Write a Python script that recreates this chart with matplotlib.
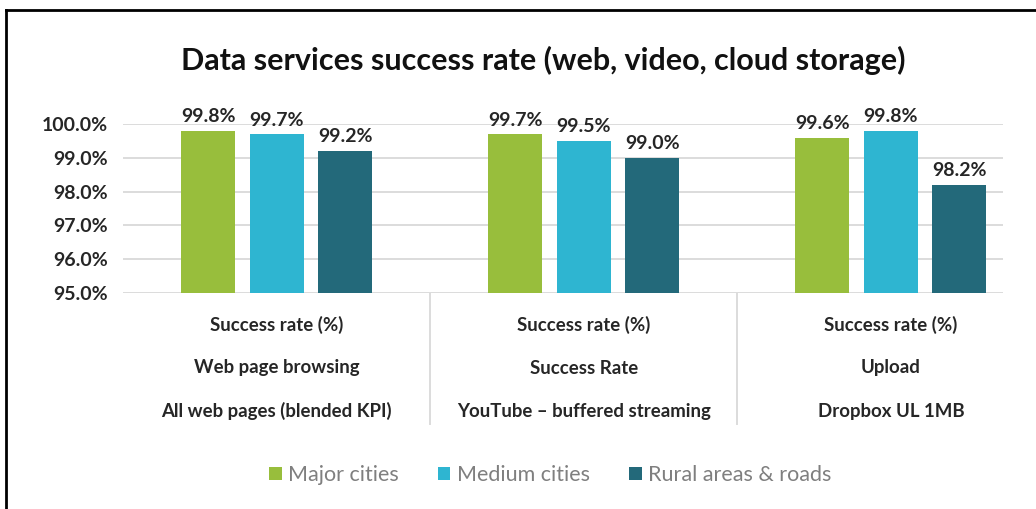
import matplotlib
matplotlib.use("Agg")
import matplotlib.pyplot as plt
from matplotlib.lines import Line2D
from matplotlib.patches import Patch
import numpy as np

plt.rcParams['font.family'] = ['Lato', 'DejaVu Sans']

# datos del grafico
categorias = [
    ("Success rate (%)", "Web page browsing", "All web pages (blended KPI)"),
    ("Success rate (%)", "Success Rate", "YouTube \u2013 buffered streaming"),
    ("Success rate (%)", "Upload", "Dropbox UL 1MB"),
]
series = ["Major cities", "Medium cities", "Rural areas & roads"]
major = [99.8, 99.7, 99.6]
medium = [99.7, 99.5, 99.8]
rural = [99.2, 99.0, 98.2]
yticks = [95, 96, 97, 98, 99, 100]

colores = ["#98BE3C", "#2EB5D1", "#23697A"]
texto = "#262626"

W, H = 1036, 509
fig = plt.figure(figsize=(W / 100, H / 100), dpi=100)
ax = fig.add_axes([123 / W, 1 - 293 / H, (1003 - 123) / W, (293 - 124) / H])

x = np.arange(len(categorias))
ancho = 0.176
paso = 0.223
for i, (valores, color) in enumerate(zip([major, medium, rural], colores)):
    barras = ax.bar(x + (i - 1) * paso, valores, width=ancho, color=color,
                    label=series[i], zorder=3)
    for b, v in zip(barras, valores):
        ax.annotate(f"{v:.1f}%", (b.get_x() + b.get_width() / 2, v),
                    xytext=(0, 4), textcoords="offset points",
                    ha="center", va="bottom", fontsize=14,
                    fontweight="bold", color=texto, annotation_clip=False)

ax.set_ylim(95, 100)
ax.set_xlim(-0.5, 2.365)
ax.set_yticks(yticks)
ax.set_yticklabels([f"{t:.1f}%" for t in yticks], fontsize=14,
                   fontweight="bold", color=texto)
ax.tick_params(axis="y", length=0, pad=11)
ax.set_xticks([])
ax.grid(axis="y", color="#DCDCDC", linewidth=1.4, zorder=0)
for s in ax.spines.values():
    s.set_visible(False)

# etiquetas de categoria en tres niveles
alto = 293 - 124
trans = ax.get_xaxis_transform()
for j, lineas in enumerate(categorias):
    for k, linea in enumerate(lineas):
        ypix = [325, 368, 411][k]
        ax.text(j, (293 - ypix) / alto, linea, transform=trans, ha="center",
                va="center", fontsize=13.4, fontweight="bold", color=texto)

# separadores entre grupos
for sx in [0.5, 1.5]:
    ax.plot([sx, sx], [0, (293 - 424) / alto], transform=trans,
            color="#DCDCDC", linewidth=1.4, clip_on=False)

fig.text(543 / W, 1 - 60 / H,
         "Data services success rate (web, video, cloud storage)",
         ha="center", va="center", fontsize=22, fontweight="bold",
         color="#111111")

handles = [Patch(facecolor=c, label=s) for c, s in zip(colores, series)]
fig.legend(handles=handles, loc="center", bbox_to_anchor=(550 / W, 1 - 475 / H),
           ncol=3, frameon=False, fontsize=15.5, handlelength=0.6,
           handleheight=0.6, handletextpad=0.3, columnspacing=1.8,
           labelcolor="#7F7F7F")

# marco superior e izquierdo
fig.add_artist(Line2D([6 / W, 6 / W], [0, 1 - 10 / H], color="black",
                      linewidth=2, transform=fig.transFigure))
fig.add_artist(Line2D([6 / W, 1], [1 - 10 / H, 1 - 10 / H], color="black",
                      linewidth=2, transform=fig.transFigure))

fig.savefig("out.png", dpi=100)
